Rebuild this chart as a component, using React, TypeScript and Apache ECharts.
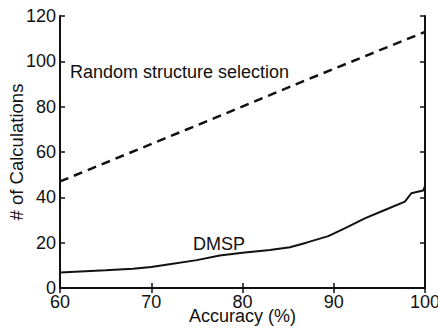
import React, { useEffect, useRef } from "react";
import * as echarts from "echarts";

const randomX = [60, 77.5, 86.1, 100];
const randomY = [47, 75.9, 90.3, 113];
const dmspX = [60, 65, 68, 70, 72, 75, 77.5, 80, 83, 85.2, 87, 89.4, 91.2, 93.4, 95.6, 97.8, 98.5, 99.2, 99.8, 100];
const dmspY = [6.8, 7.8, 8.5, 9.3, 10.5, 12.3, 14.3, 15.6, 16.8, 18.0, 20, 22.9, 26.3, 30.7, 34.4, 38.1, 41.8, 42.5, 43, 45];
const xTicks = [60, 70, 80, 90, 100];
const yTicks = [0, 20, 40, 60, 80, 100, 120];

const FONT = "Liberation Sans";

export default function App() {
  const ref = useRef<HTMLDivElement>(null);
  useEffect(() => {
    const chart = echarts.init(ref.current!, null, { renderer: "svg" });
    const axisLine = { show: true, lineStyle: { color: "#111", width: 2 } };
    const axisTick = { show: true, inside: true, length: 5, lineStyle: { color: "#111", width: 1.5 } };
    chart.setOption({
      animation: false,
      backgroundColor: "#fff",
      grid: { left: 60, right: 13, top: 16, bottom: 40, outerBoundsMode: "none", containLabel: false },
      xAxis: [
        {
          type: "value", min: xTicks[0], max: xTicks[xTicks.length - 1], interval: 10,
          axisLine, axisTick, splitLine: { show: false },
          axisLabel: { color: "#111", fontFamily: FONT, fontSize: 18, margin: 5 },
          name: "Accuracy (%)", nameLocation: "middle", nameGap: 19, nameMoveOverlap: false,
          nameTextStyle: { color: "#111", fontFamily: FONT, fontSize: 18 },
        },
        {
          type: "value", position: "top", min: xTicks[0], max: xTicks[xTicks.length - 1], interval: 10,
          axisLine, axisTick, splitLine: { show: false }, axisLabel: { show: false },
        },
      ],
      yAxis: [
        {
          type: "value", min: yTicks[0], max: yTicks[yTicks.length - 1], interval: 20,
          axisLine, axisTick, splitLine: { show: false },
          axisLabel: { color: "#111", fontFamily: FONT, fontSize: 18, margin: 4 },
          name: "# of Calculations", nameLocation: "middle", nameGap: 34, nameMoveOverlap: false,
          nameTextStyle: { color: "#111", fontFamily: FONT, fontSize: 18.5 },
        },
        {
          type: "value", position: "right", min: yTicks[0], max: yTicks[yTicks.length - 1], interval: 20,
          axisLine, axisTick, splitLine: { show: false }, axisLabel: { show: false },
        },
      ],
      series: [
        {
          type: "line", name: "Random structure selection", showSymbol: false,
          data: randomX.map((x, i) => [x, randomY[i]]),
          lineStyle: { color: "#111", width: 2.5, type: [9, 6] },
        },
        {
          type: "line", name: "DMSP", showSymbol: false,
          data: dmspX.map((x, i) => [x, dmspY[i]]),
          lineStyle: { color: "#111", width: 2 },
        },
      ],
      graphic: [
        { type: "text", left: 70, top: 63, style: { text: "Random structure selection", font: `18px '${FONT}'`, fill: "#111" } },
        { type: "text", left: 193, top: 235, style: { text: "DMSP", font: `18px '${FONT}'`, fill: "#111" } },
      ],
    });
    return () => chart.dispose();
  }, []);
  return <div ref={ref} style={{ width: 438, height: 328, position: "absolute", left: 0, top: 0 }} />;
}
